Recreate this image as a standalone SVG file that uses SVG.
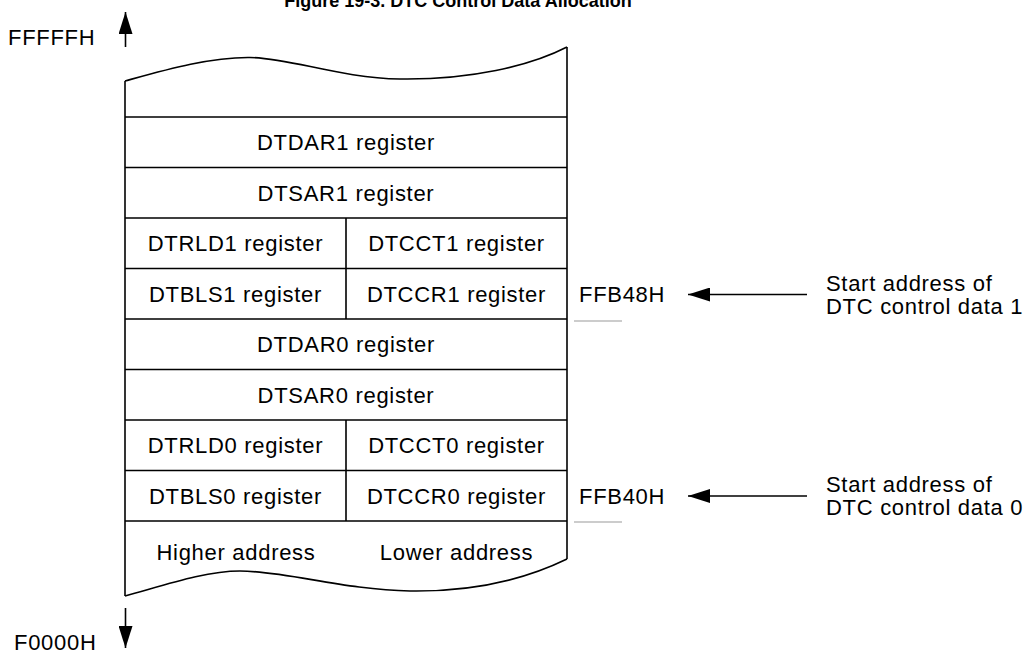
<svg xmlns="http://www.w3.org/2000/svg" width="1027" height="652" viewBox="0 0 1027 652">
<defs>
<style>
.t{font-family:"Liberation Sans",Arial,sans-serif;font-size:22px;letter-spacing:0.7px;fill:#000}
.c{text-anchor:middle}
.ln{stroke:#000;stroke-width:1.6;fill:none}
.gr{stroke:#999;stroke-width:1.2;fill:none}
.title{font-family:"Liberation Sans",Arial,sans-serif;font-size:18px;font-weight:bold;text-anchor:middle;fill:#000}
</style>
<marker id="ah" markerWidth="22" markerHeight="14" refX="22" refY="7" orient="auto" markerUnits="userSpaceOnUse">
<path d="M0,0 L22,7 L0,14 Z" fill="#000"/>
</marker>
</defs>
<rect width="1027" height="652" fill="#fff"/>
<text class="title" x="458" y="7">Figure 19-3. DTC Control Data Allocation</text>

<g id="memory-map">
<path class="ln" d="M125,81 C165,70 210,57 250,57.5 C290,58 340,78 400,79 C470,80 530,66 567,47"/>
<path class="ln" d="M125,81 L125,596"/>
<path class="ln" d="M567,47 L567,559"/>
<path class="ln" d="M125,596 C165,585 205,571 240,571 C285,571 345,590 410,591 C480,592 530,577 567,559"/>
<path class="ln" d="M125,117 H567 M125,167.5 H567 M125,218 H567 M125,268.5 H567 M125,319 H567 M125,369.5 H567 M125,420 H567 M125,470.5 H567 M125,521 H567"/>
<path class="ln" d="M346,218 V319 M346,420 V521"/>
</g>

<g id="dtdar1"><text class="t c" x="346" y="150">DTDAR1 register</text></g>
<g id="dtsar1"><text class="t c" x="346" y="200.5">DTSAR1 register</text></g>
<g id="dtrld1"><text class="t c" x="235.5" y="251">DTRLD1 register</text></g>
<g id="dtcct1"><text class="t c" x="456.5" y="251">DTCCT1 register</text></g>
<g id="dtbls1"><text class="t c" x="235.5" y="301.5">DTBLS1 register</text></g>
<g id="dtccr1"><text class="t c" x="456.5" y="301.5">DTCCR1 register</text></g>
<g id="dtdar0"><text class="t c" x="346" y="352">DTDAR0 register</text></g>
<g id="dtsar0"><text class="t c" x="346" y="402.5">DTSAR0 register</text></g>
<g id="dtrld0"><text class="t c" x="235.5" y="453">DTRLD0 register</text></g>
<g id="dtcct0"><text class="t c" x="456.5" y="453">DTCCT0 register</text></g>
<g id="dtbls0"><text class="t c" x="235.5" y="503.5">DTBLS0 register</text></g>
<g id="dtccr0"><text class="t c" x="456.5" y="503.5">DTCCR0 register</text></g>
<g id="higher"><text class="t c" x="236" y="560">Higher address</text></g>
<g id="lower"><text class="t c" x="456.5" y="560">Lower address</text></g>

<g id="addr-top"><text class="t" x="8" y="45">FFFFFH</text></g>
<g id="addr-bottom"><text class="t" x="14" y="650">F0000H</text></g>
<g id="addr-ffb48"><text class="t" x="579" y="302">FFB48H</text></g>
<g id="addr-ffb40"><text class="t" x="579" y="504">FFB40H</text></g>
<g id="label1"><text class="t" x="826" y="291">Start address of</text><text class="t" x="826" y="314">DTC control data 1</text></g>
<g id="label0"><text class="t" x="826" y="492">Start address of</text><text class="t" x="826" y="515">DTC control data 0</text></g>

<g id="connectors">
<path class="ln" d="M125.5,47 V12" marker-end="url(#ah)"/>
<path class="ln" d="M125.5,608 V648" marker-end="url(#ah)"/>
<path class="ln" d="M807,294.5 H688" marker-end="url(#ah)"/>
<path class="ln" d="M807,496 H688" marker-end="url(#ah)"/>
<path class="gr" d="M574,321 H622 M574,522 H622"/>
</g>
</svg>
